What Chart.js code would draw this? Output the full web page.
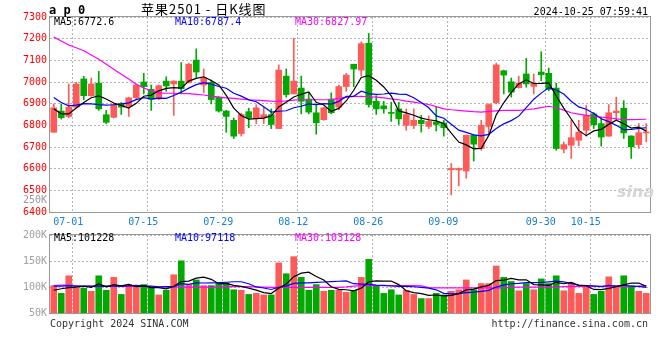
<!DOCTYPE html>
<html>
<head>
<meta charset="utf-8">
<script src="https://cdn.jsdelivr.net/npm/chart.js@4.4.1/dist/chart.umd.min.js"></script>
<style>
  body { margin: 0; background: #fff; }
  #wrap { position: relative; width: 660px; height: 360px; overflow: hidden;
          font-family: 'DejaVu Sans Mono', monospace; font-size: 10px; }
  #wrap canvas { position: absolute; left: 0; }
  .t { position: absolute; white-space: nowrap; line-height: 12px; }
</style>
</head>
<body>
<div id="wrap">
  <canvas id="kChart" width="660" height="232" style="top:0"></canvas>
  <canvas id="volChart" width="660" height="96" style="top:226px"></canvas>

  <div class="t" style="left:49px;top:4px;font-weight:bold;font-size:12px;">a p 0</div>
  <div class="t" style="left:141px;top:3px;font-family:'Noto Sans CJK SC';font-size:13px;letter-spacing:1px;">苹果2501 - 日K线图</div>
  <div class="t" style="right:12px;top:6px;">2024-10-25 07:59:41</div>

  <div class="t" style="left:54px;top:16px;color:#000;">MA5:6772.6</div>
  <div class="t" style="left:175px;top:16px;color:#0000ff;">MA10:6787.4</div>
  <div class="t" style="left:295px;top:16px;color:#ff00ff;">MA30:6827.97</div>

  <div class="t" style="left:23px;top:194px;color:#999;">250K</div>
  <div class="t" style="left:617px;top:186px;color:#d6d6d6;font-family:'DejaVu Sans';font-style:italic;font-weight:bold;font-size:16px;">sina</div>

  <div class="t" style="left:54px;top:232px;color:#000;">MA5:101228</div>
  <div class="t" style="left:175px;top:232px;color:#0000ff;">MA10:97118</div>
  <div class="t" style="left:295px;top:232px;color:#ff00ff;">MA30:103128</div>

  <div class="t" style="left:50px;top:318px;color:#333;">Copyright 2024 SINA.COM</div>
  <div class="t" style="right:12px;top:318px;color:#333;">http://finance.sina.com.cn</div>
</div>

<script>
// trading days shown on the chart
const dates = [
  '06-26','06-27','06-28',
  '07-01','07-02','07-03','07-04','07-05','07-08','07-09','07-10','07-11','07-12',
  '07-15','07-16','07-17','07-18','07-19','07-22','07-23','07-24','07-25','07-26',
  '07-29','07-30','07-31',
  '08-01','08-02','08-05','08-06','08-07','08-08','08-09','08-12','08-13','08-14',
  '08-15','08-16','08-19','08-20','08-21','08-22','08-23','08-26','08-27','08-28',
  '08-29','08-30',
  '09-02','09-03','09-04','09-05','09-06','09-09','09-10','09-11','09-12','09-13',
  '09-18','09-19','09-20','09-23','09-24','09-25','09-26','09-27','09-30',
  '10-08','10-09','10-10','10-11','10-14','10-15','10-16','10-17','10-18',
  '10-21','10-22','10-23','10-24'
];
const dateTicks = ['07-01', '07-15', '07-29', '08-12', '08-26', '09-09', '09-30', '10-15'];

const open = [
  6768,6866,6841,6884,7014,6937,6995,6849,6837,6899,
  6888,6927,7000,6966,6922,7004,6991,7004,6998,7101,
  6986,6998,6930,6866,6823,6762,6863,6835,6835,6849,
  6785,7027,6945,6972,6921,6858,6826,6921,6884,6979,
  7082,7055,7179,6911,6890,6859,6876,6800,6800,6823,
  6795,6815,6811,6595,6594,6589,6754,6693,6795,6905,
  7052,7001,6974,7037,6980,7046,7040,6972,6690,6708,
  6731,6777,6853,6808,6750,6858,6879,6751,6711,6765
];
const high = [
  6899,6899,6991,6998,7026,7018,7049,6869,6902,6905,
  6930,6991,7040,6986,6986,7024,7006,7090,7087,7153,
  7060,7009,6933,6869,6834,6856,6879,6895,6884,6876,
  7079,7060,7202,7027,6951,6899,6884,6950,6986,7040,
  7082,7185,7224,6937,6911,6907,6907,6876,6876,6846,
  6843,6884,6823,6624,6603,6756,6756,6823,6899,7087,
  7055,7018,7027,7110,7037,7139,7064,6994,6723,6823,
  6823,6892,6859,6838,6896,6930,6914,6751,6808,6808
];
const low = [
  6768,6829,6835,6881,6918,6934,6869,6808,6834,6850,
  6841,6922,6945,6869,6918,6957,6846,6945,6995,7021,
  6950,6899,6861,6768,6739,6750,6789,6808,6808,6785,
  6785,6930,6945,6853,6853,6759,6823,6853,6872,6957,
  6979,7029,6884,6850,6856,6818,6804,6777,6785,6769,
  6785,6774,6750,6479,6520,6556,6635,6685,6754,6899,
  6945,6930,6972,6976,6945,7006,6960,6685,6673,6647,
  6705,6750,6785,6704,6750,6823,6739,6647,6693,6724
];
const close = [
  6881,6835,6884,6991,6937,6991,6876,6814,6896,6884,
  6927,6986,6979,6921,6983,6982,7004,6969,7082,7046,
  7020,6919,6866,6841,6750,6850,6835,6881,6849,6804,
  7055,6942,7004,6911,6861,6812,6881,6858,6979,7032,
  7060,7177,6896,6876,6876,6855,6830,6850,6823,6808,
  6818,6804,6789,6601,6601,6754,6713,6800,6896,7079,
  7032,6953,6995,6991,6994,7034,6966,6693,6711,6743,
  6769,6846,6803,6746,6858,6866,6765,6701,6766,6769
];

const ma5 = [
  6876,6853,6853,6880,6905.6,6927.6,6935.8,6921.8,6902.8,6892.2,
  6879.4,6901.4,6934.4,6939.4,6959.2,6970.2,6973.8,6971.8,7004,7016.6,
  7024.2,7007.2,6986.6,6938.4,6879.2,6845.2,6828.4,6831.4,6833,6843.8,
  6884.8,6906.2,6930.8,6943.2,6954.6,6906,6893.8,6864.6,6878.2,6912.4,
  6962,7021.2,7028.8,7008.2,6977,6936,6866.6,6857.4,6846.8,6833.2,
  6825.8,6820.6,6808.4,6764,6722.6,6709.8,6691.6,6693.8,6752.8,6848.4,
  6904,6952,6991,7010,6993,6993.4,6996,6935.6,6879.6,6829.4,
  6776.4,6752.4,6774.4,6781.4,6804.4,6823.8,6807.6,6787.2,6791.2,6773.4
];
const ma10 = [
  6928,6905,6890,6893,6900,6899,6896,6893,6895,6898.9,
  6903.5,6918.6,6928.1,6921.1,6925.7,6924.8,6937.6,6953.1,6971.7,6987.9,
  6997.2,6990.5,6979.2,6971.2,6947.9,6934.7,6917.8,6909,6885.7,6861.5,
  6865,6867.3,6881.1,6888.1,6899.2,6895.4,6900,6897.7,6910.7,6933.5,
  6934,6957.5,6946.7,6943.2,6944.7,6949,6943.9,6943.1,6927.5,6905.1,
  6880.9,6843.6,6832.9,6805.4,6777.9,6767.8,6756.1,6751.1,6758.4,6785.5,
  6806.9,6821.8,6842.4,6881.4,6920.7,6948.7,6974,6963.3,6944.8,6911.2,
  6884.9,6874.2,6855,6830.5,6816.9,6800.1,6780,6780.8,6786.3,6788.9
];
const ma30 = [
  7207,7189,7171,7158,7144,7125,7105,7082,7059,7036,
  7014,6990,6972,6960,6950,6948,6948,6947,6946,6943,
  6940,6935,6930,6927,6924,6921,6918,6916,6914,6912,
  6911,6913,6916,6918,6918,6918,6918,6919,6924,6929,
  6933,6934,6932,6930,6927,6922,6918,6912,6907,6902,
  6896,6886,6876,6872,6869,6866,6863,6861,6864,6867,
  6869,6869,6869,6872,6876,6882,6888,6881,6870,6858,
  6852,6846,6842,6838,6835,6830,6826,6826,6827,6828
];

// volume, in thousands of lots
const volume = [
  103,88,122,98,98,92,122,94,119,86,
  105,100,105,100,85,94,124,151,105,114,
  103,103,108,108,95,94,86,88,85,85,
  147,126,159,119,94,105,92,94,94,90,
  94,119,154,103,88,95,85,94,86,78,
  78,88,85,92,95,114,95,107,107,141,
  119,111,93,107,95,116,107,122,93,108,
  88,103,86,92,120,103,122,103,92,88
];
const volMa5 = [
  94,97,99,100,101.8,99.6,106.4,100.8,105,102.6,
  105.2,100.8,103,99.2,99,96.8,101.6,110.8,111.8,117.6,
  119.4,115.2,106.6,107.2,103.4,101.6,98.2,94.2,89.6,87.6,
  98.2,106.2,120.4,127.2,129,120.6,113.8,100.8,95.8,95,
  92.8,98.2,110.2,112,111.6,111.8,105,93,89.6,87.6,
  84.2,84.8,83,84.2,87.6,94.8,96.2,100.6,103.6,112.8,
  113.8,117,114.2,114.2,105,104.4,103.6,109.4,106.6,109.2,
  103.6,102.8,95.6,95.4,97.8,100.8,104.6,108,108,101.6
];
const volMa10 = [
  102,102,103,102,102,102,102,102,102,102.2,
  102.4,103.6,101.9,102.1,100.8,101,101.2,106.9,105.5,108.3,
  108.1,108.4,108.7,109.5,110.5,110.5,106.7,100.4,98.4,95.5,
  99.9,102.2,107.3,108.4,108.3,109.4,110,110.6,111.5,112,
  106.7,106,105.5,103.9,103.3,102.3,101.6,101.6,100.8,99.6,
  98,94.9,88,86.9,87.6,89.5,90.5,91.8,93.9,100.2,
  104.3,106.6,107.4,108.9,108.9,109.1,110.3,111.8,110.4,107.1,
  104,103.2,102.5,101,103.5,102.2,103.7,101.8,101.7,99.7
];
const volMa30 = [
  103,104,104,102,102,101.5,101.5,101.5,101.5,101.5,
  101.5,101.5,101.5,100.5,100,100,100,100,100,100,
  100,100,100.5,101,101,101,101,100.5,100,99.5,
  99.5,99.5,99.5,99.5,99.5,99.5,99.5,99.5,99.5,100.5,
  102,103,103,103,103,103,103,103,103,102.5,
  99,98.5,98.5,98.5,98.5,98.5,98.5,98.5,98.5,98.5,
  98.5,99.5,100,100,100,100,100,100,101,101.5,
  101.5,101.5,101.5,101.5,101.5,101.5,101.5,101.5,102,103.1
];
const volTicks = [50, 100, 150, 200];

const RED = '#ff5a5a';
const GREEN = '#00a800';
const GRID = '#b4b4b4';
const MONO = 'DejaVu Sans Mono';

const candleColor = close.map((c, i) => c >= open[i] ? RED : GREEN);

// grey box round the plot area
const frame = {
  id: 'frame',
  afterDraw(chart) {
    const { ctx, chartArea: a } = chart;
    ctx.save();
    ctx.strokeStyle = '#999';
    ctx.lineWidth = 1;
    ctx.strokeRect(Math.round(a.left) - 0.5, Math.round(a.top) - 0.5,
                   Math.round(a.right - a.left) + 1, Math.round(a.bottom - a.top) + 1);
    ctx.restore();
  }
};

function dateGrid(c) {
  const lab = c.chart.data.labels[c.index];
  return c.tick && dateTicks.includes(lab) ? GRID : 'rgba(0,0,0,0)';
}

function maLine(data, color) {
  return {
    type: 'line', data: data, borderColor: color, borderWidth: 1.2,
    pointRadius: 0, tension: 0, fill: false
  };
}

new Chart(document.getElementById('kChart'), {
  type: 'bar',
  data: {
    labels: dates,
    datasets: [
      maLine(ma5, '#000000'),
      maLine(ma10, '#0000ff'),
      maLine(ma30, '#ff00ff'),
      {
        data: dates.map((d, i) => [open[i], close[i]]),
        backgroundColor: candleColor,
        barThickness: 6, grouped: false, minBarLength: 1
      },
      {
        data: dates.map((d, i) => [low[i], high[i]]),
        backgroundColor: candleColor,
        barThickness: 1, grouped: false
      }
    ]
  },
  options: {
    responsive: false,
    animation: false,
    devicePixelRatio: 1,
    layout: { padding: { top: 17, right: 10, left: 0, bottom: 0 } },
    plugins: { legend: { display: false }, tooltip: { enabled: false } },
    scales: {
      x: {
        offset: true,
        grid: { offset: true, drawTicks: false, color: dateGrid },
        border: { display: false, dash: [2, 2] },
        ticks: {
          autoSkip: false, maxRotation: 0, padding: 4, labelOffset: -8,
          color: '#1a7fd4', font: { family: MONO, size: 10 },
          callback(v) {
            const lab = this.getLabelForValue(v);
            return dateTicks.includes(lab) ? lab : '';
          }
        },
        afterFit(s) { s.height = 20; }
      },
      y: {
        min: 6400, max: 7300,
        grid: { drawTicks: false, color: GRID },
        border: { display: false, dash: [2, 2] },
        ticks: {
          stepSize: 100, padding: 3, color: '#ff0000', font: { family: MONO, size: 10 },
          callback: v => String(v)
        },
        afterFit(s) { s.width = 50; }
      }
    }
  },
  plugins: [frame]
});

new Chart(document.getElementById('volChart'), {
  type: 'bar',
  data: {
    labels: dates,
    datasets: [
      maLine(volMa5, '#000000'),
      maLine(volMa10, '#0000ff'),
      maLine(volMa30, '#ff00ff'),
      { data: volume, backgroundColor: candleColor, barThickness: 6 }
    ]
  },
  options: {
    responsive: false,
    animation: false,
    devicePixelRatio: 1,
    layout: { padding: { top: 8, right: 10, left: 0, bottom: 8 } },
    plugins: { legend: { display: false }, tooltip: { enabled: false } },
    scales: {
      x: {
        offset: true,
        grid: { offset: true, drawTicks: false, color: dateGrid },
        border: { display: false, dash: [2, 2] },
        ticks: { display: false },
        afterFit(s) { s.height = 0; }
      },
      y: {
        min: 50, max: 201,
        grid: { drawTicks: false, color: GRID },
        border: { display: false, dash: [2, 2] },
        afterBuildTicks(s) { s.ticks = volTicks.map(v => ({ value: v })); },
        ticks: {
          padding: 3, color: '#a0a0a0', font: { family: MONO, size: 10 },
          callback: v => v + 'K'
        },
        afterFit(s) { s.width = 50; }
      }
    }
  },
  plugins: [frame]
});
</script>
</body>
</html>
